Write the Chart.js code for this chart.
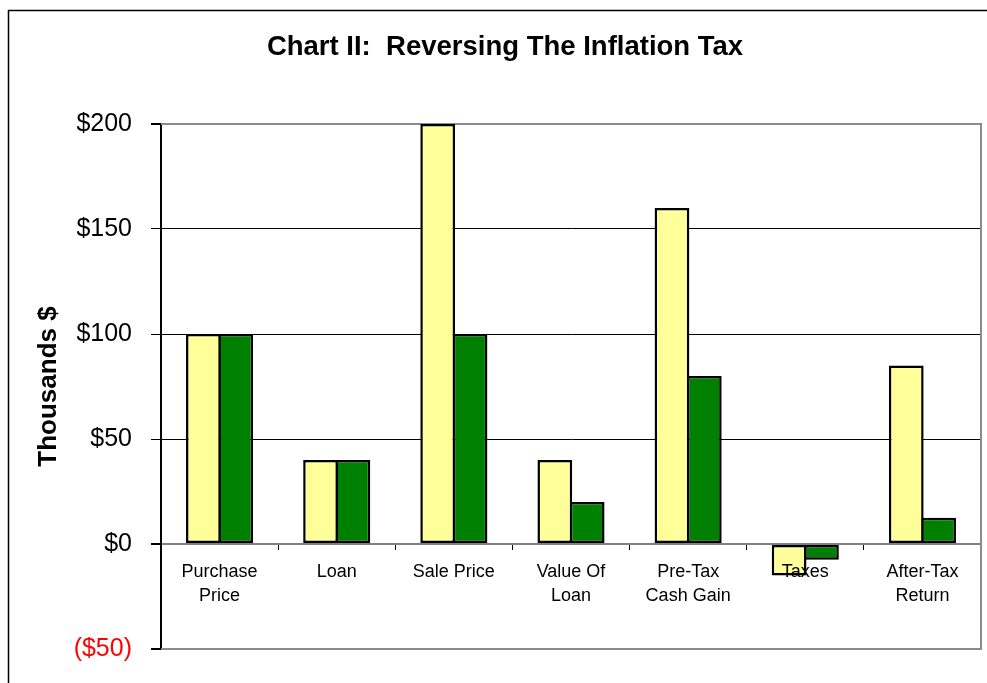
<!DOCTYPE html>
<html>
<head>
<meta charset="utf-8">
<script src="https://cdn.jsdelivr.net/npm/chart.js@4/dist/chart.umd.min.js"></script>
<style>
  body { margin: 0; background: #fff; }
  canvas { display: block; }
</style>
</head>
<body>
<canvas id="taxChart" width="987" height="683"></canvas>
<script>
// Chart data
const categories = [['Purchase', 'Price'], 'Loan', 'Sale Price', ['Value Of', 'Loan'], ['Pre-Tax', 'Cash Gain'], 'Taxes', ['After-Tax', 'Return']];
const nominalValues = [100, 40, 200, 40, 160, -15, 85];
const realValues = [100, 40, 100, 20, 80, -7.5, 12.5];
const yTicks = [-50, 0, 50, 100, 150, 200];

const FONT = 'Arial, "Liberation Sans", sans-serif';

// outer frame + grey plot box
const framePlugin = {
    id: 'frame',
    beforeDraw(chart) {
        const ctx = chart.ctx;
        ctx.save();
        ctx.strokeStyle = '#000';
        ctx.lineWidth = 1.5;
        ctx.strokeRect(8.5, 10.5, 1000, 700);
        ctx.restore();
    },
    beforeDatasetsDraw(chart) {
        const a = chart.chartArea;
        const ctx = chart.ctx;
        ctx.save();
        ctx.strokeStyle = '#8c8c8c';
        ctx.lineWidth = 2;
        ctx.beginPath();
        ctx.moveTo(a.left, a.top);
        ctx.lineTo(a.right, a.top);
        ctx.lineTo(a.right, a.bottom);
        ctx.lineTo(a.left, a.bottom);
        ctx.stroke();
        ctx.restore();
    }
};

function isEdge(v) {
    return v === 0 || v === -50 || v === 200;
}

new Chart(document.getElementById('taxChart'), {
    type: 'bar',
    data: {
        labels: categories,
        datasets: [{
            label: 'Nominal',
            data: nominalValues,
            backgroundColor: '#ffff99',
            borderColor: '#000',
            borderWidth: 2.5,
            borderSkipped: false
        }, {
            label: 'Real',
            data: realValues,
            backgroundColor: '#008000',
            borderColor: '#000',
            borderWidth: 2.5,
            borderSkipped: false
        }]
    },
    options: {
        responsive: false,
        animation: false,
        layout: { padding: { left: 29, right: 6, top: 0, bottom: 33 } },
        // bars overlap slightly so the shared edge shows one border
        datasets: { bar: { categoryPercentage: 0.552, barPercentage: 1.075 } },
        plugins: {
            legend: { display: false },
            tooltip: { enabled: false },
            title: {
                display: true,
                text: 'Chart II:  Reversing The Inflation Tax',
                color: '#000',
                font: { family: FONT, size: 27.5, weight: 'bold' },
                padding: { top: 31, bottom: 60 }
            }
        },
        scales: {
            x: {
                position: { y: 0 },
                border: { display: false },
                grid: { drawOnChartArea: false, drawTicks: true, tickLength: 6, color: '#000', lineWidth: 1 },
                ticks: {
                    z: 1,
                    color: '#000',
                    padding: 10,
                    maxRotation: 0,
                    autoSkip: false,
                    font: { family: FONT, size: 18, lineHeight: 1.33 }
                }
            },
            y: {
                min: -50,
                max: 200,
                afterFit(scale) { scale.width = 132; },
                afterBuildTicks(scale) { scale.ticks = yTicks.map(v => ({ value: v })); },
                border: { color: '#000', width: 2 },
                grid: {
                    color: (c) => isEdge(c.tick.value) ? '#808080' : '#000',
                    lineWidth: (c) => isEdge(c.tick.value) ? 2 : 1,
                    tickColor: '#000',
                    tickLength: 10
                },
                ticks: {
                    padding: 19,
                    color: (c) => c.tick.value < 0 ? '#ff0000' : '#000',
                    font: { family: FONT, size: 25 },
                    callback: (v) => v < 0 ? '($' + (-v) + ')' : '$' + v
                },
                title: {
                    display: true,
                    text: 'Thousands $',
                    color: '#000',
                    font: { family: FONT, size: 26, weight: 'bold', lineHeight: 1.2 },
                    padding: { top: 4, bottom: 0 }
                }
            }
        }
    },
    plugins: [framePlugin]
});
</script>
</body>
</html>
